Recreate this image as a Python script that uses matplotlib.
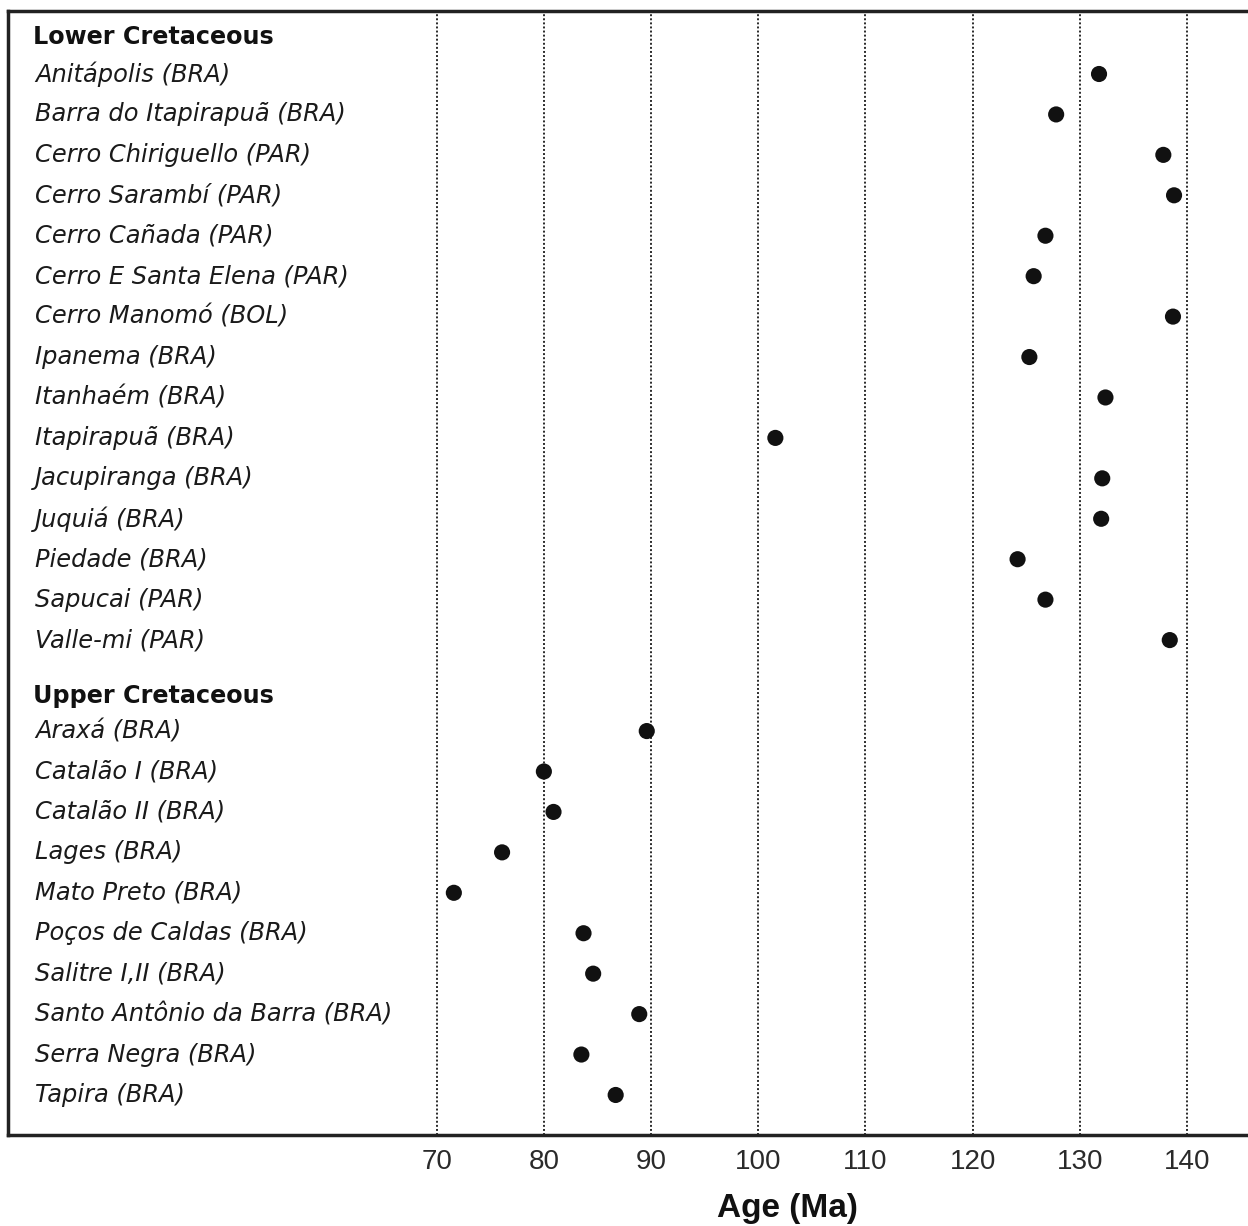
import matplotlib
matplotlib.use("Agg")
import matplotlib.pyplot as plt
import matplotlib.transforms as mtransforms

lower_names = ["Anitápolis (BRA)", "Barra do Itapirapuã (BRA)", "Cerro Chiriguello (PAR)",
               "Cerro Sarambí (PAR)", "Cerro Cañada (PAR)", "Cerro E Santa Elena (PAR)",
               "Cerro Manomó (BOL)", "Ipanema (BRA)", "Itanhaém (BRA)", "Itapirapuã (BRA)",
               "Jacupiranga (BRA)", "Juquiá (BRA)", "Piedade (BRA)", "Sapucai (PAR)",
               "Valle-mi (PAR)"]
lower_ages = [131.8, 127.8, 137.8, 138.8, 126.8, 125.7, 138.7, 125.3, 132.4, 101.6,
              132.1, 132.0, 124.2, 126.8, 138.4]

upper_names = ["Araxá (BRA)", "Catalão I (BRA)", "Catalão II (BRA)", "Lages (BRA)",
               "Mato Preto (BRA)", "Poços de Caldas (BRA)", "Salitre I,II (BRA)",
               "Santo Antônio da Barra (BRA)", "Serra Negra (BRA)", "Tapira (BRA)"]
upper_ages = [89.6, 80.0, 80.9, 76.1, 71.6, 83.7, 84.6, 88.9, 83.5, 86.7]

group_titles = ["Lower Cretaceous", "Upper Cretaceous"]
xticks = [70, 80, 90, 100, 110, 120, 130, 140]
xlabel = "Age (Ma)"

W, H = 1248, 1226
fig = plt.figure(figsize=(W / 100, H / 100), dpi=100)
ax = fig.add_axes([8 / W, 1 - 1135 / H, 1 - 8 / W, (1135 - 11) / H])

lower_y = list(range(len(lower_names)))
upper_start = len(lower_names) + 1.25
upper_y = [upper_start + i for i in range(len(upper_names))]
header_y = [-0.915, upper_start - 0.87]

ax.set_xlim(30, 145.7)
ax.set_ylim(26.24, -1.558)

for xv in xticks:
    ax.axvline(xv, color="#2a2a2a", linestyle=(0, (1, 1.1)), linewidth=1.4, zorder=1)

ax.scatter(lower_ages, lower_y, s=135, color="#111111", zorder=3, edgecolors="none")
ax.scatter(upper_ages, upper_y, s=135, color="#111111", zorder=3, edgecolors="none")

trans = mtransforms.blended_transform_factory(ax.transAxes, ax.transData)
lx = (35 - 8) / (W - 8)
hx = (33 - 8) / (W - 8)
for name, yv in zip(lower_names + upper_names, lower_y + upper_y):
    ax.text(lx, yv, name, transform=trans, ha="left", va="center",
            fontsize=17.4, style="italic", family="DejaVu Sans", color="#1a1a1a")
for title, yv in zip(group_titles, header_y):
    ax.text(hx, yv, title, transform=trans, ha="left", va="center",
            fontsize=17.2, fontweight="bold", family="DejaVu Sans", color="#111111")

ax.set_xticks(xticks)
ax.set_xticklabels([str(t) for t in xticks], family="Liberation Sans", fontsize=20,
                   color="#2a2a2a")
ax.tick_params(axis="x", length=0, pad=10)
ax.set_yticks([])

for side in ["left", "top", "bottom"]:
    ax.spines[side].set_linewidth(2.5)
    ax.spines[side].set_color("#222222")
ax.spines["right"].set_visible(False)

fig.text(787 / W, 1 - 1208 / H, xlabel, ha="center", va="center",
         fontsize=24, fontweight="bold", family="Liberation Sans", color="#111111")

fig.savefig("out.png", dpi=100)
